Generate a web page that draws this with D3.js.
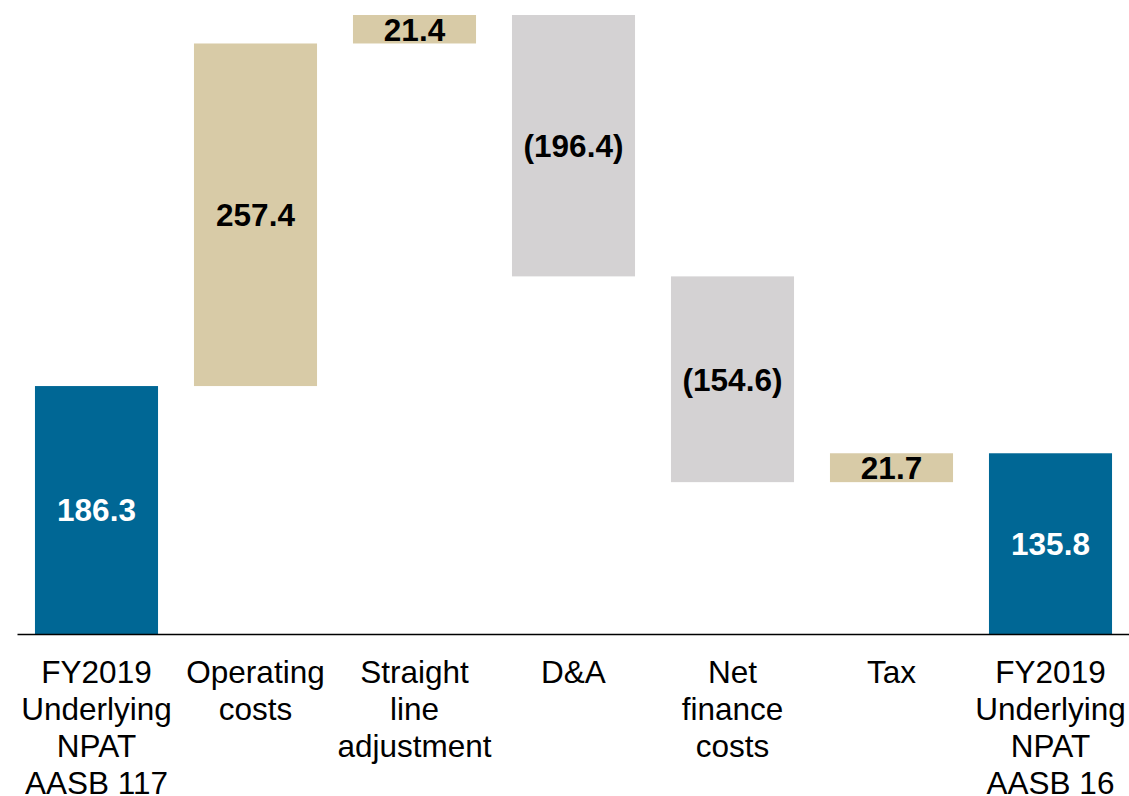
<!DOCTYPE html>
<html>
<head>
<meta charset="utf-8">
<script src="https://cdn.jsdelivr.net/npm/d3@7"></script>
<style>
  body { margin: 0; background: #fff; }
  text { font-family: "Liberation Sans", Arial, sans-serif; }
</style>
</head>
<body>
<div id="area"></div>
<script>
// waterfall data
var categories = ["FY2019 Underlying NPAT AASB 117", "Operating costs", "Straight line adjustment", "D&A", "Net finance costs", "Tax", "FY2019 Underlying NPAT AASB 16"];
var labelLines = [["FY2019", "Underlying", "NPAT", "AASB 117"], ["Operating", "costs"], ["Straight", "line", "adjustment"], ["D&A"], ["Net", "finance", "costs"], ["Tax"], ["FY2019", "Underlying", "NPAT", "AASB 16"]];
var values = [186.3, 257.4, 21.4, -196.4, -154.6, 21.7, 135.8];
var kinds = ["total", "up", "up", "down", "down", "up", "total"];
var valueLabels = ["186.3", "257.4", "21.4", "(196.4)", "(154.6)", "21.7", "135.8"];

var colors = { total: "#006795", up: "#d8cba7", down: "#d4d2d3" };

var width = 1129, height = 796;

var svg = d3.select("#area")
    .append("svg")
    .attr("width", width)
    .attr("height", height);

// build start/end for each step
var run = 0;
var steps = values.map(function (v, i) {
    var s;
    if (kinds[i] == "total") {
        s = { y0: 0, y1: v };
        run = v;
    } else {
        s = { y0: run, y1: run + v };
        run = run + v;
    }
    s.cat = categories[i];
    s.kind = kinds[i];
    s.label = valueLabels[i];
    return s;
});

var maxVal = d3.max(steps, function (d) { return Math.max(d.y0, d.y1); });

var x = d3.scaleBand()
    .domain(categories)
    .range([17, 1130])
    .paddingInner(0.226)
    .paddingOuter(0.113);

var y = d3.scaleLinear()
    .domain([0, maxVal])
    .range([634, 15]);

svg.selectAll("rect.bar")
    .data(steps)
    .enter()
    .append("rect")
    .attr("class", "bar")
    .attr("x", function (d) { return x(d.cat); })
    .attr("width", x.bandwidth())
    .attr("y", function (d) { return y(Math.max(d.y0, d.y1)); })
    .attr("height", function (d) { return Math.abs(y(d.y0) - y(d.y1)); })
    .attr("fill", function (d) { return colors[d.kind]; });

svg.selectAll("text.val")
    .data(steps)
    .enter()
    .append("text")
    .attr("class", "val")
    .attr("x", function (d) { return x(d.cat) + x.bandwidth() / 2; })
    .attr("y", function (d) { return (y(d.y0) + y(d.y1)) / 2; })
    .attr("dy", "0.36em")
    .attr("text-anchor", "middle")
    .attr("font-size", 31.5)
    .attr("font-weight", "bold")
    .attr("fill", function (d) { return d.kind == "total" ? "#fff" : "#000"; })
    .text(function (d) { return d.label; });

// x axis
var axis = svg.append("g")
    .attr("transform", "translate(0," + y(0) + ")")
    .call(d3.axisBottom(x).tickSize(0).tickSizeOuter(0));

axis.select(".domain").attr("stroke", "#000").attr("stroke-width", 1.5);

axis.selectAll(".tick text").remove();
axis.selectAll(".tick")
    .append("text")
    .attr("fill", "#000")
    .attr("font-size", 31.5)
    .attr("text-anchor", "middle")
    .each(function (d) {
        var lines = labelLines[categories.indexOf(d)];
        var t = d3.select(this);
        lines.forEach(function (l, i) {
            t.append("tspan")
                .attr("x", 0)
                .attr("y", 49 + i * 37)
                .text(l);
        });
    });
</script>
</body>
</html>
